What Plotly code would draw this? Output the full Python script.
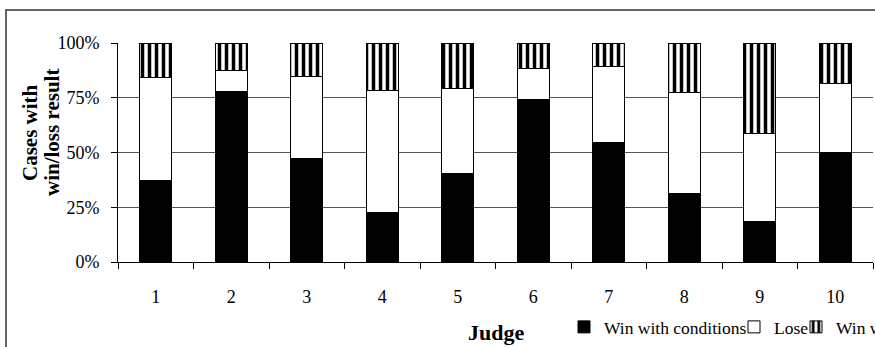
import plotly.graph_objects as go

judges = ["1", "2", "3", "4", "5", "6", "7", "8", "9", "10"]
win_with_conditions = [37.4, 77.8, 47.3, 22.5, 40.5, 74.4, 54.6, 31.4, 18.3, 50.1]
lose = [46.9, 9.6, 37.6, 55.6, 38.8, 14.0, 34.6, 46.1, 40.6, 31.5]
win = [15.7, 12.6, 15.1, 21.9, 20.7, 11.6, 10.8, 22.5, 41.1, 18.4]
y_ticks = [0, 25, 50, 75, 100]
y_tick_labels = ["0%", "25%", "50%", "75%", "100%"]

FONT = "Liberation Serif"
W, H = 875, 347
L, R, T, B = 118, 2, 43, 85

fig = go.Figure()
fig.add_bar(x=judges, y=win_with_conditions, name="Win with conditions",
            marker=dict(color="black", line=dict(color="black", width=1)),
            legend="legend")
fig.add_bar(x=judges, y=lose, name="Lose",
            marker=dict(color="white", line=dict(color="black", width=1)),
            legend="legend2")
fig.add_bar(x=judges, y=win, name="Win without conditions",
            marker=dict(color="white", line=dict(color="black", width=1),
                        pattern=dict(shape="|", fgcolor="black", bgcolor="white",
                                     size=7, solidity=0.5, fillmode="replace")),
            legend="legend3")

pw = W - L - R
ph = H - T - B

leg_common = dict(orientation="h", xref="container", yref="container",
                  xanchor="left", yanchor="middle", y=20 / H,
                  font=dict(family=FONT, size=17.5, color="black"),
                  bgcolor="rgba(0,0,0,0)", borderwidth=0,
                  itemwidth=30, tracegroupgap=0)

title_font = dict(family=FONT, size=21, color="black")
y_title_center = (H - B - 133) / ph

fig.update_layout(
    width=W, height=H,
    margin=dict(l=L, r=R, t=T, b=B, autoexpand=False),
    paper_bgcolor="white", plot_bgcolor="white",
    barmode="stack", bargap=0.576,
    font=dict(family=FONT, size=18, color="black"),
    showlegend=True,
    legend=dict(x=564 / W, **leg_common),
    legend2=dict(x=734 / W, **leg_common),
    legend3=dict(x=796 / W, **leg_common),
    xaxis=dict(
        type="category", showline=True, linecolor="black", linewidth=1,
        ticks="outside", tickson="boundaries", ticklen=6, tickcolor="black",
        showgrid=False, ticklabelstandoff=18,
        tickfont=dict(family=FONT, size=18, color="black"),
    ),
    yaxis=dict(
        range=[0, 100], tickvals=y_ticks, ticktext=y_tick_labels,
        showline=True, linecolor="black", linewidth=1,
        ticks="outside", ticklen=6, tickcolor="black",
        showgrid=True, gridcolor="#555555", gridwidth=1, zeroline=False,
        ticklabelstandoff=8,
        tickfont=dict(family=FONT, size=18, color="black"),
    ),
    annotations=[
        dict(text="<b>Cases with</b>", xref="paper", yref="paper",
             x=(30 - L) / pw, y=y_title_center, xanchor="center", yanchor="middle",
             textangle=-90, showarrow=False, font=title_font),
        dict(text="<b>win/loss result</b>", xref="paper", yref="paper",
             x=(52 - L) / pw, y=y_title_center, xanchor="center", yanchor="middle",
             textangle=-90, showarrow=False, font=title_font),
        dict(text="<b>Judge</b>", xref="paper", yref="paper",
             x=0.5, y=(H - B - 332) / ph, xanchor="center", yanchor="middle",
             showarrow=False, font=dict(family=FONT, size=22, color="black")),
    ],
    shapes=[dict(type="rect", xref="paper", yref="paper",
                 x0=(6 - L) / pw, x1=1.2, y0=-1.0, y1=(H - B - 10) / ph,
                 line=dict(color="#333333", width=1.5), fillcolor="rgba(0,0,0,0)",
                 layer="below")],
)

fig.write_html("out.html", config={"displayModeBar": False},
               post_script="document.body.style.margin='0';document.body.style.padding='0';")
